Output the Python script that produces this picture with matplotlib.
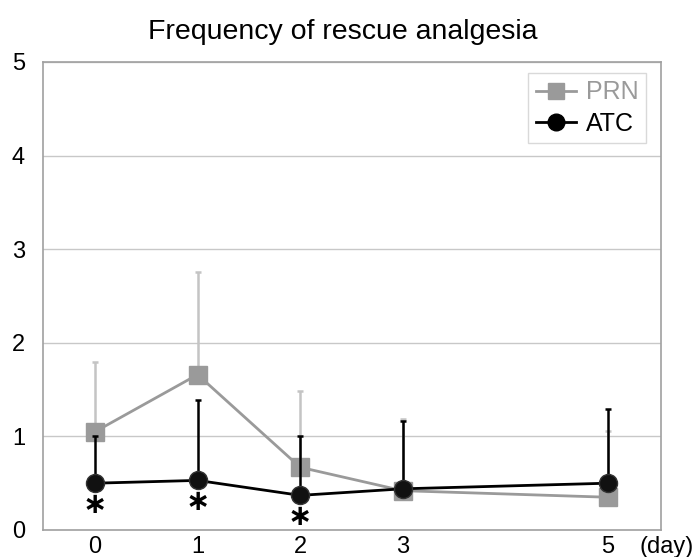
import matplotlib
matplotlib.use("Agg")
import matplotlib.pyplot as plt
from matplotlib.lines import Line2D

plt.rcParams['font.family'] = ['Liberation Sans', 'DejaVu Sans']

days = [0, 1, 2, 3, 5]
day_labels = ["0", "1", "2", "3", "5"]
prn_mean = [1.05, 1.66, 0.67, 0.42, 0.35]
prn_err = [0.75, 1.10, 0.81, 0.77, 0.71]
atc_mean = [0.50, 0.53, 0.37, 0.44, 0.50]
atc_err = [0.50, 0.86, 0.63, 0.72, 0.79]
sig_days = [0, 1, 2]

fig = plt.figure(figsize=(6.93, 5.57), dpi=100)
ax = fig.add_axes([43/693, 1-530/557, (661-43)/693, (530-62)/557])

ax.set_xlim(-0.507, 5.517)
ax.set_ylim(0, 5)
ax.set_yticks([0, 1, 2, 3, 4, 5])
ax.set_xticks(days)
ax.set_xticklabels(day_labels)
ax.yaxis.grid(True, color='#c8c8c8', linewidth=1.0)
ax.set_axisbelow(True)
for s in ax.spines.values():
    s.set_color('#a0a0a0')
    s.set_linewidth(1.2)
ax.tick_params(length=0, labelsize=17)
ax.tick_params(axis='x', pad=4)
ax.tick_params(axis='y', pad=13)

# PRN
ax.errorbar(days, prn_mean, yerr=[[0]*5, prn_err], fmt='none', ecolor='#c4c4c4',
            elinewidth=1.8, capsize=2.5, capthick=1.8, zorder=2)
ax.plot(days, prn_mean, color='#9a9a9a', linewidth=2, marker='s', markersize=12.5,
        markerfacecolor='#9a9a9a', markeredgecolor='#9a9a9a', zorder=3)
# ATC
ax.errorbar(days, atc_mean, yerr=[[0]*5, atc_err], fmt='none', ecolor='black',
            elinewidth=1.8, capsize=2.5, capthick=1.8, zorder=4)
ax.plot(days, atc_mean, color='black', linewidth=2, marker='o', markersize=13,
        markerfacecolor='#111111', markeredgecolor='#333333', zorder=5)

for d in sig_days:
    ax.text(d, atc_mean[d] - 0.235, '\u2217', ha='center', va='center', fontsize=21,
            fontweight='bold', color='black', family=['DejaVu Sans'])

ax.annotate('(day)', xy=(5.31, 0), xycoords='data', xytext=(0, -4),
            textcoords='offset points', ha='left', va='top', fontsize=17,
            annotation_clip=False)

fig.text(342.5/693, 1-32/557, 'Frequency of rescue analgesia', ha='center', va='center',
         fontsize=20.5)

handles = [Line2D([], [], color='#9a9a9a', linewidth=2, marker='s', markersize=11),
           Line2D([], [], color='black', linewidth=2, marker='o', markersize=12)]
leg = ax.legend(handles, ['PRN', 'ATC'], loc='upper right',
                bbox_to_anchor=(1-15/618, 1-11/468), borderaxespad=0,
                fontsize=18, frameon=True, fancybox=False, handlelength=1.6,
                handletextpad=0.4, borderpad=0.3, labelspacing=0.3)
leg.get_frame().set_edgecolor('#d0d0d0')
leg.get_frame().set_linewidth(1.0)
leg.get_texts()[0].set_color('#9a9a9a')

fig.savefig('out.png', dpi=100)
